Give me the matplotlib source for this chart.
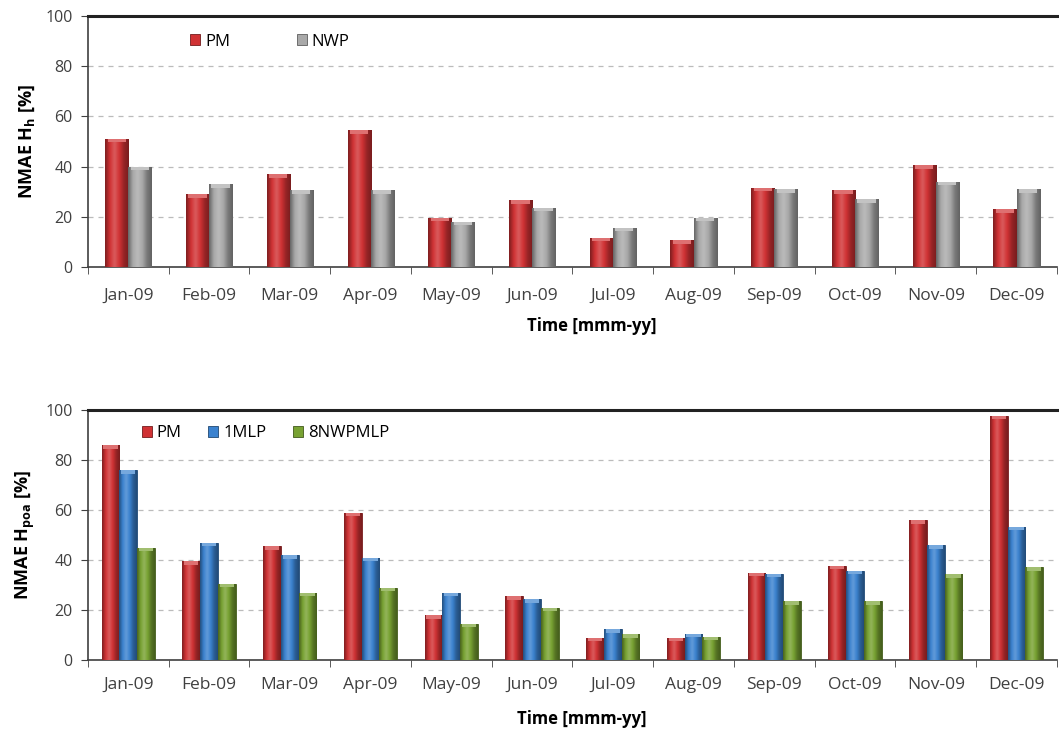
import numpy as np
import matplotlib.pyplot as plt
from matplotlib.colors import LinearSegmentedColormap, to_rgb

plt.rcParams['font.family'] = ['Open Sans', 'DejaVu Sans']
plt.rcParams['mathtext.fontset'] = 'custom'
plt.rcParams['mathtext.bf'] = 'Open Sans:bold'
plt.rcParams['mathtext.rm'] = 'Open Sans'

months = ['Jan-09', 'Feb-09', 'Mar-09', 'Apr-09', 'May-09', 'Jun-09',
          'Jul-09', 'Aug-09', 'Sep-09', 'Oct-09', 'Nov-09', 'Dec-09']

# global horizontal irradiance errors
hh_pm = [51, 29, 37, 54.5, 19.5, 26.5, 11.5, 10.5, 31.5, 30.5, 40.5, 23]
hh_nwp = [40, 33, 30.5, 30.5, 18, 23.5, 15.5, 19.5, 31, 27, 34, 31]

# plane-of-array irradiance errors
poa_pm = [86, 39.5, 45.5, 59, 18, 25.5, 9, 9, 35, 37.8, 56, 97.7]
poa_mlp = [76, 47, 42, 41, 27, 24.3, 12.3, 10.5, 34.5, 35.8, 46, 53.3]
poa_nwpmlp = [45, 30.5, 27, 29, 14.5, 21, 10.3, 9.4, 23.5, 23.5, 34.3, 37.2]

RED = '#d03234'
GRAY = '#a9a9a9'
BLUE = '#3b82cf'
GREEN = '#78a232'


def shade(c, f):
    r = np.array(to_rgb(c))
    if f < 1:
        return tuple(r * f)
    return tuple(r + (1 - r) * (f - 1))


def cyl_bars(ax, x, vals, width, color, label):
    bars = ax.bar(x, vals, width, color=color, label=label, zorder=3,
                  edgecolor=shade(color, 0.55), linewidth=0.6)
    cmap = LinearSegmentedColormap.from_list(
        'c', [shade(color, 0.6), shade(color, 1.0), shade(color, 1.2),
              shade(color, 1.0), shade(color, 0.72), shade(color, 0.58)])
    grad = np.linspace(0, 1, 64).reshape(1, -1)
    for b in bars:
        x0, w, h = b.get_x(), b.get_width(), b.get_height()
        im = ax.imshow(grad, cmap=cmap, aspect='auto', zorder=3.5,
                       extent=(x0, x0 + w, 0, h), interpolation='bicubic')
        im.set_clip_path(b)
        # lighter cap at the top of the bar
        cap = min(1.4, h * 0.3)
        ax.fill_between([x0 + w * 0.1, x0 + w * 0.9], h - cap, h,
                        color=shade(color, 1.3), zorder=3.6, linewidth=0)
    return bars


def style(ax, ylabel, tickpad, xlab_x):
    ax.set_xlim(-0.5, 11.5)
    ax.set_ylim(0, 100)
    ax.set_yticks(range(0, 101, 20))
    ax.set_xticks(range(12))
    ax.set_xticklabels(months)
    ax.set_xticks(np.arange(-0.5, 12, 1), minor=True)
    ax.tick_params(axis='x', which='major', length=0, pad=tickpad,
                   labelsize=12.5, labelcolor='#404040')
    ax.tick_params(axis='x', which='minor', length=5, direction='out',
                   color='#404040')
    ax.tick_params(axis='y', length=5, direction='out', color='#404040',
                   labelsize=11.5, labelcolor='#404040', pad=6)
    ax.yaxis.grid(True, linestyle=(0, (4, 4)), color='#bbbbbb', linewidth=0.9,
                  zorder=0)
    ax.set_axisbelow(True)
    for s in ('left', 'bottom'):
        ax.spines[s].set_color('#404040')
        ax.spines[s].set_linewidth(1.2)
    ax.spines['top'].set_color('#222222')
    ax.spines['top'].set_linewidth(2.2)
    ax.spines['right'].set_visible(False)
    ax.set_ylabel(ylabel, fontsize=13, fontweight='bold', labelpad=6)
    ax.set_xlabel('Time [mmm-yy]', fontsize=12, fontweight='bold')
    ax.xaxis.set_label_coords(xlab_x, -0.2)


fig = plt.figure(figsize=(10.59, 7.31), dpi=100)
ax1 = fig.add_axes([0.083, 0.635, 0.915, 0.343])
ax2 = fig.add_axes([0.083, 0.097, 0.915, 0.342])

x = np.arange(len(months))

w1 = 0.285
cyl_bars(ax1, x - w1 / 2, hh_pm, w1, RED, 'PM')
cyl_bars(ax1, x + w1 / 2, hh_nwp, w1, GRAY, 'NWP')
style(ax1, r'NMAE H$_\mathbf{h}$ [%]', 15, 0.52)
ax1.legend(loc='upper left', bbox_to_anchor=(0.09, 0.99), ncol=2, frameon=False,
           fontsize=12, handlelength=0.6, handleheight=0.6, columnspacing=4.0,
           handletextpad=0.3)

w2 = 0.22
cyl_bars(ax2, x - w2, poa_pm, w2, RED, 'PM')
cyl_bars(ax2, x, poa_mlp, w2, BLUE, '1MLP')
cyl_bars(ax2, x + w2, poa_nwpmlp, w2, GREEN, '8NWPMLP')
style(ax2, r'NMAE H$_\mathbf{poa}$ [%]', 12, 0.51)
ax2.legend(loc='upper left', bbox_to_anchor=(0.04, 1.0), ncol=3, frameon=False,
           fontsize=12, handlelength=0.6, handleheight=0.6, columnspacing=1.6,
           handletextpad=0.3)

fig.savefig('out.png', dpi=100)
